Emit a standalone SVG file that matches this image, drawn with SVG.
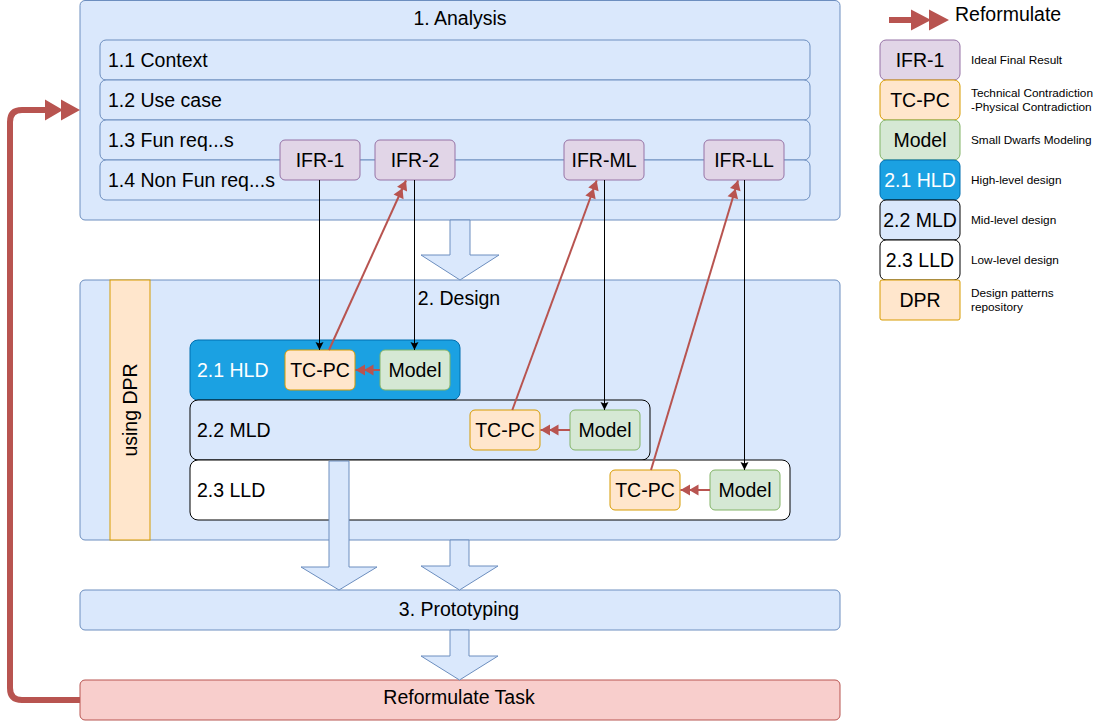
<svg xmlns="http://www.w3.org/2000/svg" width="1101" height="722" viewBox="0 0 1101 722">
<style>
text{font-family:"Liberation Sans",Arial,Helvetica,sans-serif;font-size:19.5px;fill:#000}
.c{text-anchor:middle}
.w{fill:#fff}
.s{font-size:11.8px}
.blue{fill:#dae8fc;stroke:#6c8ebf;stroke-width:1}
.ifr{fill:#e1d5e7;stroke:#9673a6;stroke-width:1}
.tc{fill:#ffe6cc;stroke:#d79b00;stroke-width:1}
.mod{fill:#d5e8d4;stroke:#82b366;stroke-width:1}
.hld{fill:#1ba1e2;stroke:#006eaf;stroke-width:1}
.mld{fill:#dae8fc;stroke:#000;stroke-width:1}
.lld{fill:#fff;stroke:#000;stroke-width:1}
.red{fill:#f8cecc;stroke:#b85450;stroke-width:1}
.flat{fill:#dae8fc;stroke:#6c8ebf;stroke-width:1}
.blk{fill:none;stroke:#000;stroke-width:1;marker-end:url(#mb)}
.rl{fill:none;stroke:#b85450;stroke-width:2;marker-end:url(#md)}
.thick{fill:none;stroke:#b85450;stroke-width:6}
.rh{fill:#b85450}
</style>
<defs>
<marker id="mb" viewBox="-9 -5 10 10" markerWidth="10" markerHeight="10" refX="0" refY="0" orient="auto" markerUnits="userSpaceOnUse">
<path d="M-8,-4 L0,0 L-8,4 L-6.5,0 Z" fill="#000"/>
</marker>
<marker id="md" viewBox="-19 -6 20 12" markerWidth="20" markerHeight="12" refX="0" refY="0" orient="auto" markerUnits="userSpaceOnUse">
<path d="M-18,-5.5 L-8.5,0 L-18,5.5 Z M-9.5,-5.5 L0,0 L-9.5,5.5 Z" fill="#b85450"/>
</marker>
</defs>

<g id="analysis">
<rect class="blue" x="80" y="0.5" width="760" height="219.5" rx="5"/>
<text class="c" x="460" y="25">1. Analysis</text>
</g>
<g id="row-1-1"><rect class="blue" x="100" y="40" width="710" height="40" rx="6"/><text x="108" y="67">1.1 Context</text></g>
<g id="row-1-2"><rect class="blue" x="100" y="80" width="710" height="40" rx="6"/><text x="108" y="107">1.2 Use case</text></g>
<g id="row-1-3"><rect class="blue" x="100" y="120" width="710" height="40" rx="6"/><text x="108" y="147">1.3 Fun req...s</text></g>
<g id="row-1-4"><rect class="blue" x="100" y="160" width="710" height="40" rx="6"/><text x="108" y="187">1.4 Non Fun req...s</text></g>

<g id="ifr-1"><rect class="ifr" x="280" y="140" width="80" height="40" rx="5"/><text class="c" x="320" y="167">IFR-1</text></g>
<g id="ifr-2"><rect class="ifr" x="375" y="140" width="80" height="40" rx="5"/><text class="c" x="415" y="167">IFR-2</text></g>
<g id="ifr-ml"><rect class="ifr" x="564" y="140" width="80" height="40" rx="5"/><text class="c" x="604" y="167">IFR-ML</text></g>
<g id="ifr-ll"><rect class="ifr" x="704" y="140" width="80" height="40" rx="5"/><text class="c" x="744" y="167">IFR-LL</text></g>

<g id="design">
<rect class="blue" x="80" y="280" width="760" height="260" rx="5"/>
<text class="c" x="459" y="305">2. Design</text>
</g>
<g id="dpr-strip">
<rect class="tc" x="110" y="280" width="40" height="260"/>
<text class="c" transform="translate(130,410) rotate(-90)" dy="0.35em">using DPR</text>
</g>

<g id="hld"><rect class="hld" x="190" y="340" width="270" height="60" rx="8"/><text class="w" x="197" y="377">2.1 HLD</text></g>
<g id="mld"><rect class="mld" x="190" y="400" width="460" height="60" rx="8"/><text x="197" y="437">2.2 MLD</text></g>
<g id="lld"><rect class="lld" x="190" y="460" width="600" height="60" rx="8"/><text x="197" y="497">2.3 LLD</text></g>

<g id="hld-tcpc"><rect class="tc" x="285" y="350" width="70" height="40" rx="5"/><text class="c" x="320" y="377">TC-PC</text></g>
<g id="hld-model"><rect class="mod" x="380" y="350" width="70" height="40" rx="5"/><text class="c" x="415" y="377">Model</text></g>
<g id="mld-tcpc"><rect class="tc" x="470" y="410" width="70" height="40" rx="5"/><text class="c" x="505" y="437">TC-PC</text></g>
<g id="mld-model"><rect class="mod" x="570" y="410" width="70" height="40" rx="5"/><text class="c" x="605" y="437">Model</text></g>
<g id="lld-tcpc"><rect class="tc" x="610" y="470" width="70" height="40" rx="5"/><text class="c" x="645" y="497">TC-PC</text></g>
<g id="lld-model"><rect class="mod" x="710" y="470" width="70" height="40" rx="5"/><text class="c" x="745" y="497">Model</text></g>

<g id="prototyping"><rect class="blue" x="80" y="590" width="760" height="40" rx="5"/><text class="c" x="459" y="616">3. Prototyping</text></g>
<g id="reformulate-task"><rect class="red" x="80" y="680" width="760" height="40" rx="5"/><text class="c" x="459" y="704">Reformulate Task</text></g>

<g id="flow-arrows">
<path class="flat" d="M450,220 H470 V255 H499 L460,280 L421,255 H450 Z"/>
<path class="flat" d="M329,461 H349 V567 H377 L339,590 L301,567 H329 Z"/>
<path class="flat" d="M450,540 H469 V566 H498 L459.5,590 L421,566 H450 Z"/>
<path class="flat" d="M450,630 H469 V656 H498 L459.5,680 L421,656 H450 Z"/>
</g>

<g id="connectors">
<line class="blk" x1="319.5" y1="180" x2="319.5" y2="350"/>
<line class="blk" x1="414.5" y1="180" x2="414.5" y2="350"/>
<line class="blk" x1="604.5" y1="180" x2="604.5" y2="410"/>
<line class="blk" x1="744.5" y1="180" x2="744.5" y2="470"/>
<line class="rl" x1="329" y1="350" x2="406" y2="180.5"/>
<line class="rl" x1="512.3" y1="410" x2="596.7" y2="180.5"/>
<line class="rl" x1="651" y1="470" x2="738" y2="180.5"/>
<line class="rl" x1="380" y1="370" x2="355.5" y2="370"/>
<line class="rl" x1="570" y1="430" x2="540.5" y2="430"/>
<line class="rl" x1="710" y1="490" x2="680.5" y2="490"/>
<path class="thick" d="M80,700 H22 Q10,700 10,688 V122 Q10,110 22,110 H47"/>
<path class="rh" d="M45,99.5 L63,110 L45,120.5 Z M61,99.5 L80,110 L61,120.5 Z"/>
</g>

<g id="legend">
<g id="legend-reformulate">
<line class="thick" x1="889" y1="20" x2="913" y2="20"/>
<path class="rh" d="M911,9.5 L931,20 L911,30.5 Z M929,9.5 L949,20 L929,30.5 Z"/>
<text x="955" y="21">Reformulate</text>
</g>
<g id="legend-ifr"><rect class="ifr" x="880" y="40" width="80" height="40" rx="6"/><text class="c" x="920" y="67">IFR-1</text><text class="s" x="971" y="64">Ideal Final Result</text></g>
<g id="legend-tcpc"><rect class="tc" x="880" y="80" width="80" height="40" rx="6"/><text class="c" x="920" y="107">TC-PC</text><text class="s" x="971" y="97">Technical Contradiction</text><text class="s" x="971" y="111">-Physical Contradiction</text></g>
<g id="legend-model"><rect class="mod" x="880" y="120" width="80" height="40" rx="6"/><text class="c" x="920" y="147">Model</text><text class="s" x="971" y="144">Small Dwarfs Modeling</text></g>
<g id="legend-hld"><rect class="hld" x="880" y="160" width="80" height="40" rx="6"/><text class="c w" x="920" y="187">2.1 HLD</text><text class="s" x="971" y="184">High-level design</text></g>
<g id="legend-mld"><rect class="mld" x="880" y="200" width="80" height="40" rx="6"/><text class="c" x="920" y="227">2.2 MLD</text><text class="s" x="971" y="224">Mid-level design</text></g>
<g id="legend-lld"><rect class="lld" x="880" y="240" width="80" height="40" rx="6"/><text class="c" x="920" y="267">2.3 LLD</text><text class="s" x="971" y="264">Low-level design</text></g>
<g id="legend-dpr"><rect class="tc" x="880" y="280" width="80" height="40" rx="2"/><text class="c" x="920" y="307">DPR</text><text class="s" x="971" y="297">Design patterns</text><text class="s" x="971" y="311">repository</text></g>
</g>
</svg>
